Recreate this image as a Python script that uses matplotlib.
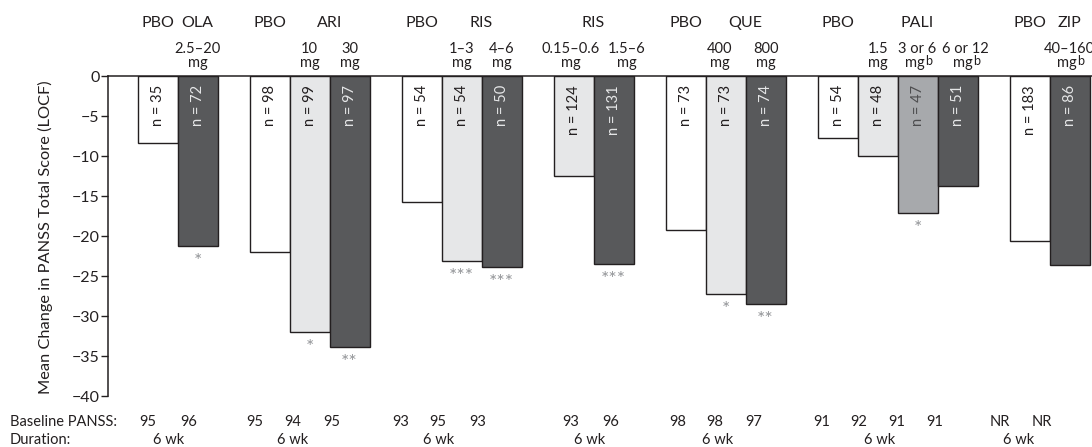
import numpy as np
import matplotlib
matplotlib.use('Agg')
import matplotlib.pyplot as plt
from matplotlib.transforms import blended_transform_factory

plt.rcParams['font.family'] = ['Lato', 'DejaVu Sans']
plt.rcParams['mathtext.fontset'] = 'custom'
plt.rcParams['mathtext.rm'] = 'Lato'

# data
drugs = ['OLA', 'ARI', 'RIS', 'RIS', 'QUE', 'PALI', 'ZIP']
group_sizes = [2, 3, 3, 2, 3, 4, 2]
bar_kind = ['pbo', 'dark',
            'pbo', 'light', 'dark',
            'pbo', 'light', 'dark',
            'light', 'dark',
            'pbo', 'light', 'dark',
            'pbo', 'light', 'mid', 'dark',
            'pbo', 'dark']
mean_change = [-8.4, -21.2,
               -22.0, -32.0, -33.9,
               -15.8, -23.1, -23.9,
               -12.5, -23.5,
               -19.2, -27.2, -28.5,
               -7.75, -10.0, -17.1, -13.8,
               -20.6, -23.6]
n_pat = [35, 72, 98, 99, 97, 54, 54, 50, 124, 131, 73, 73, 74, 54, 48, 47, 51, 183, 86]
dose_top = ['', '2.5\u201320', '', '10', '30', '', '1\u20133', '4\u20136', '0.15\u20130.6', '1.5\u20136',
            '', '400', '800', '', '1.5', '3 or 6', '6 or 12', '', '40\u2013160']
dose_bot = ['', 'mg', '', 'mg', 'mg', '', 'mg', 'mg', 'mg', 'mg',
            '', 'mg', 'mg', '', 'mg', 'mgb', 'mgb', '', 'mgb']
signif = ['', '*', '', '*', '**', '', '***', '***', '', '***', '', '*', '**', '', '', '*', '', '', '']
baseline = ['95', '96', '95', '94', '95', '93', '95', '93', '93', '96',
            '98', '98', '97', '91', '92', '91', '91', 'NR', 'NR']
duration = ['6 wk'] * 7

# styling / layout
fill = {'pbo': '#ffffff', 'light': '#e6e7e8', 'mid': '#a7a9ac', 'dark': '#58595b'}
ntext = {'pbo': '#231f20', 'light': '#231f20', 'mid': '#4d4d4f', 'dark': '#e6e7e8'}
edge = '#231f20'
txt = '#231f20'
gap = 0.8
base_nudge = [-10, -9, -15, -17, -18, -21, -24, -24, -3, -3, -8, -11, -12, -16, -19, -21, -23, -30, -28]
dur_nudge = [-9, -17, -23, -4, -8, -18, -31]
dose_nudge = [0, 0, 0, 0, 0, 0, 0, 0, -3, 13, 0, -6, 0, -4, 0, 0, 8, 0, 0]

W, H = 1092, 447
def fy(px):
    return 1 - px / H

# bar positions
x = []
groups = []
start = 0.0
for g in group_sizes:
    xs = [start + i for i in range(g)]
    groups.append(xs)
    x += xs
    start += g + gap
x = np.array(x)

fig = plt.figure(figsize=(W / 100, H / 100), dpi=100)
ax = fig.add_axes([108 / W, fy(396), 984 / W, 320 / H])

ax.bar(x, mean_change, width=1.0, color=[fill[k] for k in bar_kind],
       edgecolor=edge, linewidth=1.0, zorder=2)

ax.set_xlim(-1.2375, 23.36)
ax.set_ylim(-40, 0)
ax.set_yticks(np.arange(-40, 1, 5))
ax.set_xticks([])
ax.tick_params(axis='y', direction='out', length=5, width=1, color=edge,
               labelsize=11.5, labelcolor=txt, pad=1)
for s in ['right', 'bottom']:
    ax.spines[s].set_visible(False)
for s in ['left', 'top']:
    ax.spines[s].set_color(edge)
    ax.spines[s].set_linewidth(1.1)

fig.text(45 / W, fy(237), 'Mean Change in PANSS Total Score (LOCF)', rotation=90,
         ha='center', va='center', fontsize=11.8, color=txt)

# n labels and stars
for xi, v, k, n, s in zip(x, mean_change, bar_kind, n_pat, signif):
    ax.annotate(f'n = {n}', (xi, 0), xytext=(0, -6.5), textcoords='offset points',
                rotation=90, ha='center', va='top', fontsize=10.5, color=ntext[k])
    if s:
        ax.annotate(s, (xi, v), xytext=(0, -5), textcoords='offset points',
                    ha='center', va='top', fontsize=14, color='#939598')

trans = blended_transform_factory(ax.transData, fig.transFigure)

# header rows
gi = 0
for d, xs in zip(drugs, groups):
    kinds = bar_kind[gi:gi + len(xs)]
    drug_x = [xx for xx, k in zip(xs, kinds) if k != 'pbo']
    for xx, k in zip(xs, kinds):
        if k == 'pbo':
            ax.text(xx, fy(27.3), 'PBO', transform=trans, ha='center', va='baseline',
                    fontsize=11.5, color=txt)
    ax.text(np.mean(drug_x), fy(27.3), d, transform=trans, ha='center', va='baseline',
            fontsize=11.5, color=txt)
    gi += len(xs)

for xi, t, b, dn in zip(x, dose_top, dose_bot, dose_nudge):
    if not t:
        continue
    xx = xi + dn / 40
    ax.text(xx, fy(53), t, transform=trans, ha='center', va='baseline',
            fontsize=10.5, color=txt)
    if b == 'mgb':
        # "mg" with a raised b, centred as one piece
        t1 = ax.text(xx - 0.07, fy(67), 'mg', transform=trans, ha='center', va='baseline',
                     fontsize=10.5, color=txt)
        ax.annotate('b', (1, 0), xycoords=t1, xytext=(0.5, 3.5), textcoords='offset points',
                    ha='left', va='baseline', fontsize=9, color=txt)
    else:
        ax.text(xx, fy(67), b, transform=trans, ha='center', va='baseline',
                fontsize=10.5, color=txt)

# bottom rows
fig.text(10 / W, fy(426), 'Baseline PANSS:', ha='left', va='baseline', fontsize=10.5, color=txt)
fig.text(10 / W, fy(444), 'Duration:', ha='left', va='baseline', fontsize=10.5, color=txt)
for xi, b, dn in zip(x, baseline, base_nudge):
    ax.text(xi + dn / 40, fy(426), b, transform=trans, ha='center', va='baseline',
            fontsize=10.5, color=txt)
for xs, d, dn in zip(groups, duration, dur_nudge):
    ax.text(np.mean(xs) + dn / 40, fy(444), d, transform=trans, ha='center', va='baseline',
            fontsize=10.5, color=txt)

fig.savefig('out.png', dpi=100)
